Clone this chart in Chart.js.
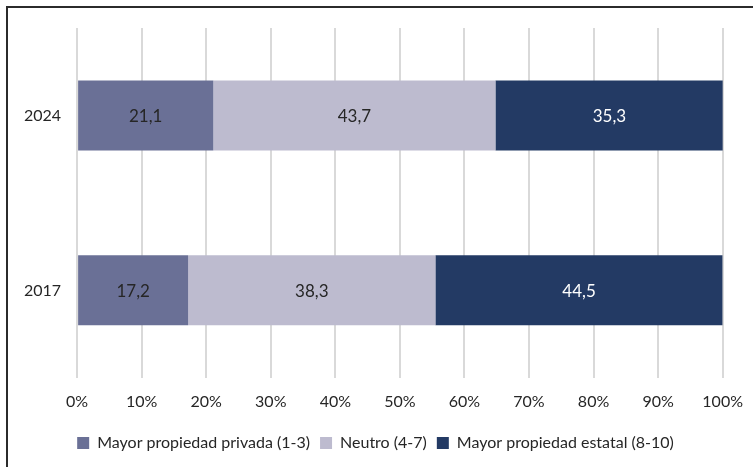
<!DOCTYPE html>
<html>
<head>
<meta charset="utf-8">
<script src="https://cdn.jsdelivr.net/npm/chart.js@4/dist/chart.umd.min.js"></script>
<style>
  body { margin: 0; background: #fff; overflow: hidden; }
  #wrap { position: relative; width: 753px; height: 467px; overflow: hidden; }
  #frame { position: absolute; left: 6px; top: 6px; width: 800px; height: 500px; border: 2px solid #2b2b2b; box-sizing: border-box; }
  canvas { position: absolute; left: 0; top: 0; }
</style>
</head>
<body>
<div id="wrap">
  <div id="frame"></div>
  <canvas id="chart" width="757" height="467"></canvas>
</div>
<script>
const years = ['2024', '2017'];
const privada = [21.1, 17.2];
const neutro = [43.7, 38.3];
const estatal = [35.3, 44.5];
const seriesNames = ['Mayor propiedad privada (1-3)', 'Neutro (4-7)', 'Mayor propiedad estatal (8-10)'];

// etiquetas de valores dentro de cada barra
const barLabels = {
    id: 'barLabels',
    afterDatasetsDraw(chart) {
        const ctx = chart.ctx;
        ctx.save();
        ctx.font = '17px Lato, "Open Sans", sans-serif';
        ctx.textAlign = 'center';
        ctx.textBaseline = 'middle';
        chart.data.datasets.forEach((ds, i) => {
            const meta = chart.getDatasetMeta(i);
            ctx.fillStyle = i === 2 ? '#ffffff' : '#262626';
            meta.data.forEach((bar, j) => {
                const x = (bar.x + bar.base) / 2;
                ctx.fillText(ds.data[j].toFixed(1).replace('.', ','), x, bar.y + 1);
            });
        });
        ctx.restore();
    }
};

const ctx = document.getElementById('chart').getContext('2d');
new Chart(ctx, {
    type: 'bar',
    data: {
        labels: years,
        datasets: [
            { label: seriesNames[0], data: privada, backgroundColor: '#6a7096' },
            { label: seriesNames[1], data: neutro, backgroundColor: '#bdbbcf' },
            { label: seriesNames[2], data: estatal, backgroundColor: '#233a64' }
        ]
    },
    options: {
        indexAxis: 'y',
        responsive: false,
        animation: false,
        layout: { padding: { left: 8, right: 14, top: 28, bottom: 6 } },
        datasets: { bar: { barPercentage: 0.4, categoryPercentage: 1 } },
        plugins: {
            legend: {
                position: 'bottom',
                labels: {
                    boxWidth: 12, boxHeight: 12, padding: 10,
                    color: '#262626',
                    font: { size: 16, family: 'Lato, "Open Sans", sans-serif' }
                }
            },
            tooltip: { enabled: false }
        },
        scales: {
            x: {
                stacked: true, min: 0, max: 100,
                ticks: { stepSize: 10, callback: v => v + '%', color: '#262626', padding: 14,
                    font: { size: 16, family: 'Lato, "Open Sans", sans-serif' } },
                grid: { color: '#d9d9d9', lineWidth: 2, drawTicks: false },
                border: { display: false }
            },
            y: {
                stacked: true,
                ticks: { color: '#262626', padding: 16,
                    font: { size: 16, family: 'Lato, "Open Sans", sans-serif' } },
                grid: { display: false, drawTicks: false },
                border: { display: false }
            }
        }
    },
    plugins: [barLabels]
});
</script>
</body>
</html>
